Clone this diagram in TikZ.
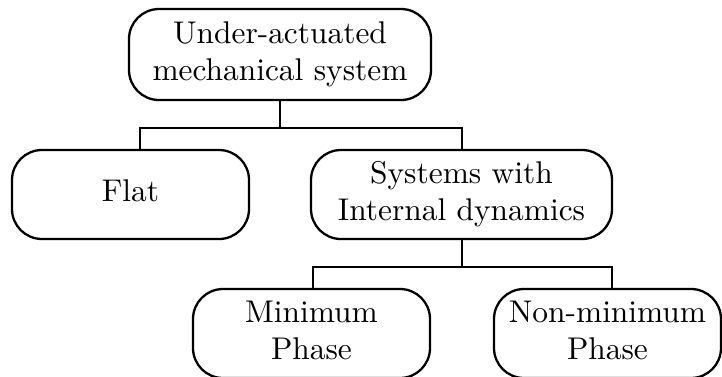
\documentclass[tikz,border=0pt]{standalone}
\usepackage{graphicx}
\newcommand{\bigtxt}[1]{\scalebox{3.14}{\renewcommand{\arraystretch}{0.97}\begin{tabular}{@{}c@{}}#1\end{tabular}}}
\begin{document}
\begin{tikzpicture}[x=1pt,y=1pt,
  box/.style={draw,line width=2.3pt,rounded corners=30pt,align=center,inner sep=0pt,outer sep=0pt},
  link/.style={line width=2.3pt}]
\useasboundingbox (0,0) rectangle (722,-376);
\node[box,minimum width=302pt,minimum height=91pt] (top) at (280,-54.5) {\bigtxt{Under-actuated\\mechanical system}};
\node[box,minimum width=237pt,minimum height=89pt] (flat) at (130.5,-194.5) {\bigtxt{Flat}};
\node[box,minimum width=301pt,minimum height=89pt] (sys) at (461.5,-194.5) {\bigtxt{Systems with\\Internal dynamics}};
\node[box,minimum width=237pt,minimum height=89pt] (min) at (311.5,-333.5) {\bigtxt{Minimum\\Phase}};
\node[box,minimum width=227pt,minimum height=89pt] (non) at (607.5,-333.5) {\bigtxt{Non-minimum\\Phase}};
\coordinate (b1) at (280,-128);
\coordinate (fl) at (140,-150);
\coordinate (sy) at (462,-150);
\draw[link] (top.south) -- (b1);
\draw[link] (fl) -- (fl |- b1) -- (sy |- b1) -- (sy);
\coordinate (b2) at (462,-267);
\coordinate (mi) at (313,-289);
\coordinate (nm) at (612,-289);
\draw[link] (sys.south -| b2) -- (b2);
\draw[link] (mi) -- (mi |- b2) -- (nm |- b2) -- (nm);
\end{tikzpicture}
\end{document}
